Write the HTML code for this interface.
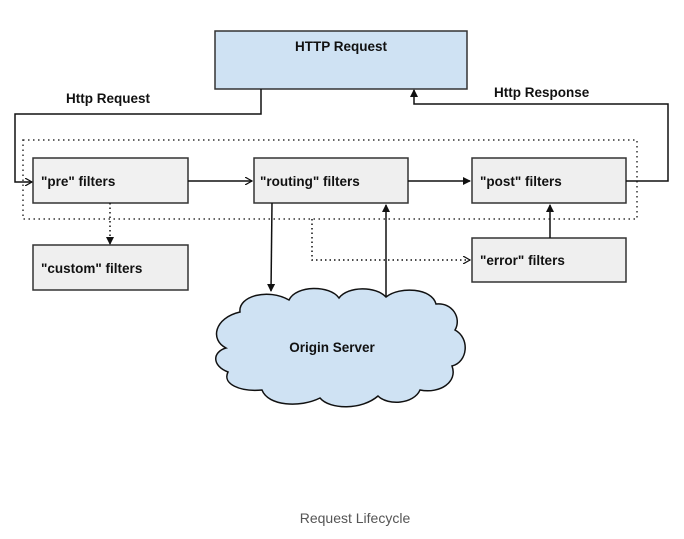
<!DOCTYPE html>
<html><head><meta charset="utf-8"><style>
html,body{margin:0;padding:0;background:#fff;width:684px;height:539px;overflow:hidden}
svg text{font-family:"Liberation Sans",Arial,sans-serif;font-weight:bold;font-size:13.5px;fill:#111}
</style></head><body>
<svg width="684" height="539" viewBox="0 0 684 539" xmlns="http://www.w3.org/2000/svg">
<defs>
<marker id="a" markerWidth="8" markerHeight="8" refX="7" refY="4" orient="auto" markerUnits="userSpaceOnUse"><path d="M0,0 L8,4 L0,8 Z" fill="#111"/></marker>
<marker id="o" markerWidth="8" markerHeight="8" refX="7" refY="4" orient="auto" markerUnits="userSpaceOnUse"><path d="M0,0 L7,4 L0,8" fill="none" stroke="#111" stroke-width="1.2"/></marker>
</defs>
<rect x="23" y="140" width="614" height="79" fill="none" stroke="#333" stroke-width="1.5" stroke-dasharray="1.5,3.5"/>
<rect x="215" y="31" width="252" height="58" fill="#cfe2f3" stroke="#333" stroke-width="1.5"/>
<text x="341" y="51" text-anchor="middle">HTTP Request</text>
<rect x="33" y="158" width="155" height="45" fill="#f1f1f1" stroke="#333" stroke-width="1.5"/>
<text x="41" y="186">"pre" filters</text>
<rect x="254" y="158" width="154" height="45" fill="#efefef" stroke="#333" stroke-width="1.5"/>
<text x="260" y="186">"routing" filters</text>
<rect x="472" y="158" width="154" height="45" fill="#efefef" stroke="#333" stroke-width="1.5"/>
<text x="480" y="186">"post" filters</text>
<rect x="33" y="245" width="155" height="45" fill="#efefef" stroke="#333" stroke-width="1.5"/>
<text x="41" y="273">"custom" filters</text>
<rect x="472" y="238" width="154" height="44" fill="#efefef" stroke="#333" stroke-width="1.5"/>
<text x="480" y="265">"error" filters</text>
<text x="66" y="103">Http Request</text>
<text x="494" y="97">Http Response</text>
<g fill="none" stroke="#111" stroke-width="1.5">
<path d="M261,89 V114 H15 V182 H32" marker-end="url(#o)"/>
<path d="M626,181 H668 V104 H414 V90" marker-end="url(#a)"/>
<path d="M188,181 H252" marker-end="url(#o)"/>
<path d="M408,181 H470" marker-end="url(#a)"/>
<path d="M272,203 L271,291" marker-end="url(#a)"/>
<path d="M386,296 V205" marker-end="url(#a)"/>
<path d="M550,238 V205" marker-end="url(#a)"/>
<path d="M110,203 V244" stroke-dasharray="1.5,3" marker-end="url(#a)"/>
<path d="M312,219 V260 H470" stroke-dasharray="1.5,3" marker-end="url(#o)"/>
</g>
<path d="M240,312 C238,296 268,288 289,300 C296,285 330,285 339,298 C348,286 376,286 386,297 C400,286 432,288 436,304 C452,302 462,318 455,330 C470,338 468,362 452,366 C458,382 440,394 420,390 C414,404 388,406 378,396 C362,410 330,410 320,398 C300,408 268,406 262,390 C240,392 222,384 228,372 C212,366 212,352 226,348 C210,340 214,318 240,312 Z" fill="#cfe2f3" stroke="#111" stroke-width="1.5"/>
<text x="332" y="352" text-anchor="middle">Origin Server</text>
<text x="355" y="523" text-anchor="middle" style="font-weight:normal;font-size:14px;fill:#555">Request Lifecycle</text>
</svg>
</body></html>
